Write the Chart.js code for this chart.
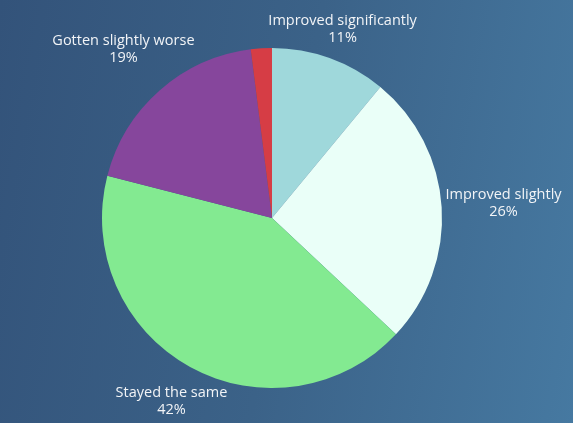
<!DOCTYPE html>
<html>
<head>
<meta charset="utf-8">
<script src="https://cdn.jsdelivr.net/npm/chart.js@4"></script>
<style>
	html, body { margin: 0; padding: 0; }
	body {
		width: 573px;
		height: 423px;
		background: linear-gradient(100deg, #33537a 0%, #3b6288 50%, #4679a1 100%);
		overflow: hidden;
	}
	#wrap { position: relative; width: 573px; height: 423px; }
</style>
</head>
<body>
<div id="wrap"><canvas id="chart"></canvas></div>
<script>
const categories = [
	'Improved significantly',
	'Improved slightly',
	'Stayed the same',
	'Gotten slightly worse',
	'Gotten significantly worse',
]
const values = [11, 26, 42, 19, 2]
const colors = ['#9fd8db', '#eafff8', '#83ea91', '#86469c', '#d63d45']

const LABEL_FONT = '14.5px "Open Sans", sans-serif'
const LINE_H = 17

// draws "name / xx%" outside each slice, skips the tiny ones
const outLabels = {
	id: 'outLabels',
	afterDatasetsDraw(chart) {
		const ctx = chart.ctx
		const meta = chart.getDatasetMeta(0)
		const total = values.reduce((a, b) => a + b, 0)
		ctx.save()
		ctx.font = LABEL_FONT
		ctx.fillStyle = '#f2f4f7'
		ctx.textAlign = 'center'
		ctx.textBaseline = 'middle'
		meta.data.forEach((arc, i) => {
			const pct = Math.round(values[i] / total * 100)
			if (pct < 5) return
			const p = arc.getProps(['x', 'y', 'startAngle', 'endAngle', 'outerRadius'], true)
			const mid = (p.startAngle + p.endAngle) / 2
			const vx = Math.cos(mid)
			const vy = Math.sin(mid)
			const w = ctx.measureText(categories[i]).width
			const h = LINE_H * 2 + 16 // box incl. padding
			const ext = Math.sqrt(Math.pow(vx * w / 2, 2) + Math.pow(vy * h / 2, 2))
			const r = p.outerRadius + 4 + ext
			const cx = p.x + vx * r
			// keep the box inside the canvas
			const cy = Math.max(p.y + vy * r, h / 2 + 4)
			ctx.fillText(categories[i], cx, cy - LINE_H / 2)
			ctx.fillText(pct + '%', cx, cy + LINE_H / 2)
		})
		ctx.restore()
	},
}

new Chart(document.getElementById('chart'), {
	type: 'pie',
	data: {
		labels: categories,
		datasets: [{
			data: values,
			backgroundColor: colors,
			borderWidth: 0,
			hoverOffset: 0,
		}],
	},
	options: {
		responsive: true,
		maintainAspectRatio: false,
		animation: false,
		layout: { padding: { top: 48, bottom: 35, left: 0, right: 29 } },
		plugins: {
			legend: { display: false },
			tooltip: { enabled: false },
		},
	},
	plugins: [outLabels],
})
</script>
</body>
</html>
